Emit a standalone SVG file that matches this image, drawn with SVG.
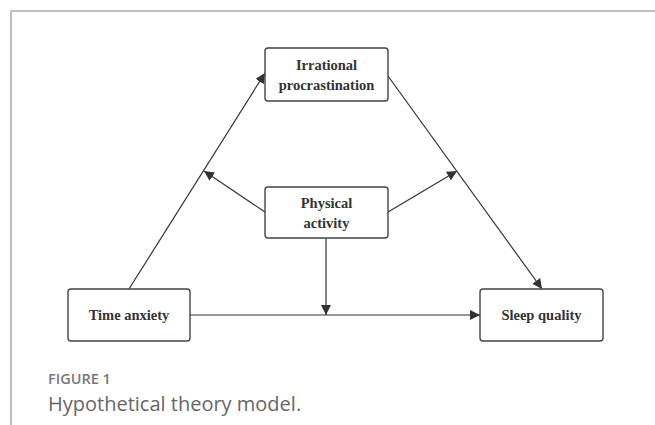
<svg xmlns="http://www.w3.org/2000/svg" width="655" height="425" viewBox="0 0 655 425">
<defs>
<marker id="ah" viewBox="0 0 10 10" refX="10" refY="5" markerWidth="10" markerHeight="10" markerUnits="userSpaceOnUse" orient="auto">
<path d="M0,0 L10,5 L0,10 z" fill="#333"/>
</marker>
<style>
.box{fill:#fff;stroke:#444;stroke-width:1.4}
.lbl{font-family:"Liberation Serif","Times New Roman",serif;font-weight:bold;font-size:14.5px;fill:#333;text-anchor:middle}
.conn line{stroke:#333;stroke-width:1.2}
.frame{stroke:#aaa;stroke-width:1.5;fill:none}
</style>
</defs>
<rect width="655" height="425" fill="#fff"/>
<path class="frame" d="M11,425 L11,11 L655,11"/>
<g id="connectors" class="conn">
<line x1="129" y1="289" x2="265" y2="73" marker-end="url(#ah)"/>
<line x1="388" y1="76" x2="542" y2="289" marker-end="url(#ah)"/>
<line x1="265" y1="212" x2="204" y2="171" marker-end="url(#ah)"/>
<line x1="388" y1="212" x2="457" y2="171" marker-end="url(#ah)"/>
<line x1="326" y1="238" x2="326" y2="315" marker-end="url(#ah)"/>
<line x1="190" y1="315" x2="480" y2="315" marker-end="url(#ah)"/>
</g>
<g id="irrational">
<rect class="box" x="265" y="48" width="123" height="53" rx="3"/>
<text class="lbl" x="326.5" y="70">Irrational</text>
<text class="lbl" x="326.5" y="90">procrastination</text>
</g>
<g id="physical">
<rect class="box" x="265" y="187" width="123" height="51" rx="3"/>
<text class="lbl" x="326.5" y="208">Physical</text>
<text class="lbl" x="326.5" y="228">activity</text>
</g>
<g id="time">
<rect class="box" x="68" y="289" width="122" height="52" rx="3"/>
<text class="lbl" x="129" y="320">Time anxiety</text>
</g>
<g id="sleep">
<rect class="box" x="480" y="289" width="123" height="52" rx="3"/>
<text class="lbl" x="541.5" y="320">Sleep quality</text>
</g>
<text x="48" y="384" font-family="'Open Sans',sans-serif" font-weight="600" font-size="14.5" fill="#777">FIGURE 1</text>
<text x="48" y="411" font-family="'Open Sans',sans-serif" font-size="20" fill="#666">Hypothetical theory model.</text>
</svg>
